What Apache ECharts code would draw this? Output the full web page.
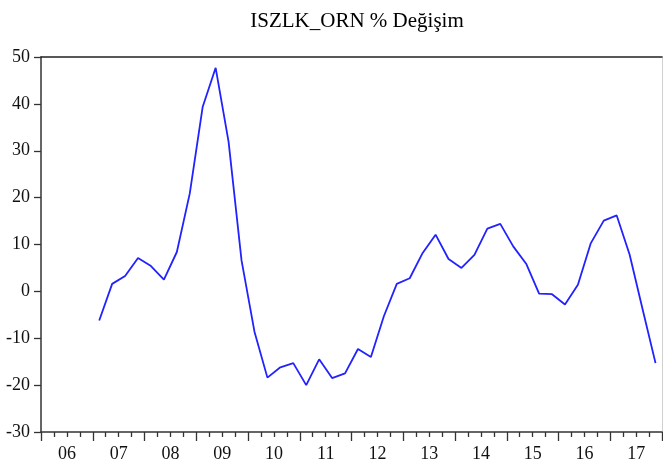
<!DOCTYPE html>
<html>
<head>
<meta charset="utf-8">
<script src="https://cdn.jsdelivr.net/npm/echarts@6/dist/echarts.min.js"></script>
<style>
  html, body { margin: 0; padding: 0; background: #fff; }
  #chart { width: 663px; height: 468px; }
</style>
</head>
<body>
<div id="chart"></div>
<script>
// yillar (eksen etiketleri)
const years = ['06', '07', '08', '09', '10', '11', '12', '13', '14', '15', '16', '17']

// ISZLK_ORN % degisim, ceyreklik 2006Q1 .. 2017Q4, 2006 bos
const pctChange = [
  null, null, null, null,
  -6.2, 1.6, 3.3, 7.1,
  5.4, 2.5, 8.4, 20.9,
  39.4, 47.7, 31.9, 6.6,
  -8.6, -18.4, -16.2, -15.3,
  -20.0, -14.5, -18.5, -17.5,
  -12.3, -14.0, -5.3, 1.6,
  2.8, 8.2, 12.1, 6.9,
  5.0, 7.8, 13.4, 14.4,
  9.6, 5.9, -0.5, -0.6,
  -2.8, 1.4, 10.3, 15.1,
  16.2, 7.8, -3.8, -15.3
]

const font = 'Liberation Serif'
const axisColor = '#333'
const myChart = echarts.init(document.getElementById('chart'))

// x ekseni yil cinsinden (0 = 2006 basi), nokta ceyrek ortasinda
const seriesData = pctChange.map((v, i) => [(i + 0.5) / 4, v])

let option = {
  animation: false,
  title: {
    text: 'ISZLK_ORN % Değişim',
    left: 352,
    textAlign: 'center',
    top: 6,
    textStyle: { fontFamily: font, fontSize: 21, fontWeight: 'normal', color: '#000' }
  },
  grid: { left: 41, right: 1, top: 57, bottom: 36, outerBoundsMode: 'none' },
  xAxis: [
    { // yil tikleri + ceyrek ara tikleri
      type: 'value',
      min: 0,
      max: years.length,
      interval: 1,
      axisLine: { show: true, onZero: false, lineStyle: { color: axisColor, width: 1.5 } },
      axisTick: { show: true, inside: false, length: 9, lineStyle: { color: axisColor, width: 1.3 } },
      minorTick: { show: true, splitNumber: 4, length: 5, lineStyle: { color: axisColor, width: 1.3 } },
      axisLabel: {
        show: true,
        margin: 13,
        formatter: v => (years[v] ? '{y|' + years[v] + '}' : ''),
        rich: { y: { fontFamily: font, fontSize: 18, color: '#111', padding: [0, 0, 0, 52] } }
      },
      splitLine: { show: false }
    },
    { // ust cerceve
      type: 'value',
      position: 'top',
      min: 0,
      max: years.length,
      axisLine: { show: true, onZero: false, lineStyle: { color: '#222', width: 1.5 } },
      axisTick: { show: false },
      axisLabel: { show: false },
      splitLine: { show: false }
    }
  ],
  yAxis: [
    {
      type: 'value',
      min: -30,
      max: 50,
      interval: 10,
      axisLine: { show: true, onZero: false, lineStyle: { color: axisColor, width: 1.5 } },
      axisTick: { show: true, inside: false, length: 7, lineStyle: { color: axisColor, width: 1.3 } },
      axisLabel: { margin: 11, fontFamily: font, fontSize: 18, color: '#111' },
      splitLine: { show: false }
    },
    { // sag cerceve
      type: 'value',
      position: 'right',
      min: -30,
      max: 50,
      axisLine: { show: true, onZero: false, lineStyle: { color: '#d0d0d0', width: 1 } },
      axisTick: { show: false },
      axisLabel: { show: false },
      splitLine: { show: false }
    }
  ],
  series: [
    {
      type: 'line',
      data: seriesData,
      xAxisIndex: 0,
      yAxisIndex: 0,
      showSymbol: false,
      connectNulls: false,
      lineStyle: { color: '#2222ff', width: 1.8 }
    }
  ]
}

myChart.setOption(option)
</script>
</body>
</html>
